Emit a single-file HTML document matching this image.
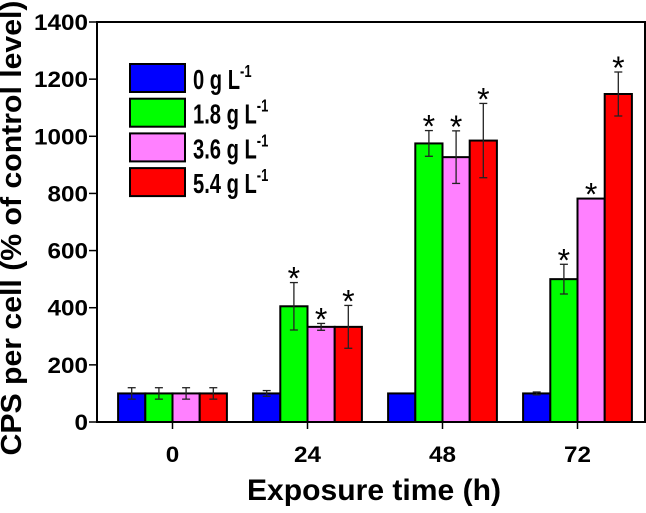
<!DOCTYPE html>
<html><head><meta charset="utf-8"><style>
body{margin:0;background:#fff}
svg text{font-family:"Liberation Sans",Arial,sans-serif;font-weight:bold}
</style></head><body>
<svg id="chart" width="646" height="508" viewBox="0 0 646 508" xmlns="http://www.w3.org/2000/svg">
<g id="bars"></g>
<g id="axes"></g>
<g id="legend"></g>
<text transform="translate(21,228) rotate(-90)" text-anchor="middle" font-size="29" textLength="455" lengthAdjust="spacingAndGlyphs">CPS per cell (% of control level)</text>
<text x="374" y="500" text-anchor="middle" font-size="30" textLength="254" lengthAdjust="spacingAndGlyphs">Exposure time (h)</text>
</svg>
<script>
const categories = ["0","24","48","72"];
const seriesNames = ["0 g L","1.8 g L","3.6 g L","5.4 g L"];
const seriesColors = ["#0000ff","#00ff00","#ff80ff","#ff0000"];
const s0 = [100,100,100,100];
const s1 = [100,405,975,500];
const s2 = [100,333,927,782];
const s3 = [100,333,985,1148];
const e0 = [20,10,0,5];
const e1 = [20,83,45,52];
const e2 = [20,12,92,0];
const e3 = [20,75,130,77];
const sig0 = [0,0,0,0];
const sig1 = [0,1,1,1];
const sig2 = [0,1,1,1];
const sig3 = [0,1,1,1];
const yTicks = [0,200,400,600,800,1000,1200,1400];

const NS="http://www.w3.org/2000/svg";
const L=97,R=645,T=22,B=422,yMax=1400;
const y=v=>B-(v/yMax)*(B-T);
const groupW=135, firstC=172.5, barW=27.2;
const xc=i=>firstC+i*groupW;
function mk(tag,attrs,parent){const e=document.createElementNS(NS,tag);for(const k in attrs)e.setAttribute(k,attrs[k]);parent.appendChild(e);return e;}
const bars=document.getElementById('bars'),axes=document.getElementById('axes'),leg=document.getElementById('legend');
const series=[s0,s1,s2,s3],errs=[e0,e1,e2,e3],sigs=[sig0,sig1,sig2,sig3];
categories.forEach((c,i)=>{
  series.forEach((s,j)=>{
    const x0=xc(i)-2*barW+j*barW;
    const r=mk('rect',{x:x0,y:y(s[i]),width:barW,height:B-y(s[i]),fill:seriesColors[j],stroke:'#000','stroke-width':2},bars);
    
    
    const cx=x0+barW/2;
    const e=errs[j][i];
    if(e>0){
      const g=mk('g',{stroke:'#222','stroke-width':1.3},bars);
      
      
      mk('line',{x1:cx,x2:cx,y1:y(s[i]+e),y2:y(s[i]-e)},g);
      mk('line',{x1:cx-4,x2:cx+4,y1:y(s[i]+e),y2:y(s[i]+e)},g);
      mk('line',{x1:cx-4,x2:cx+4,y1:y(s[i]-e),y2:y(s[i]-e)},g);
    }
    if(sigs[j][i]){
      const t=mk('text',{x:cx,y:y(s[i]+e)+7,'text-anchor':'middle','font-size':32,style:'font-weight:normal'},bars);
      t.textContent='*';
      
      
    }
  });
  mk('line',{x1:xc(i),x2:xc(i),y1:B,y2:B+7,stroke:'#000','stroke-width':1.5},axes);
  const t=mk('text',{x:xc(i),y:B+40,'text-anchor':'middle','font-size':22,textLength:13.5*c.length,lengthAdjust:'spacingAndGlyphs'},axes);
  t.textContent=c;
  
  
});
const fr=mk('rect',{x:L,y:T,width:R-L,height:B-T,fill:'none',stroke:'#000','stroke-width':2},axes);


yTicks.forEach(v=>{
  mk('line',{x1:L-8,x2:L,y1:y(v),y2:y(v),stroke:'#000','stroke-width':1.5},axes);
  const s=String(v);
  const t=mk('text',{x:L-7,y:y(v)+8,'text-anchor':'end','font-size':22,textLength:13.5*s.length,lengthAdjust:'spacingAndGlyphs'},axes);
  t.setAttribute('x',L-9);
  t.textContent=s;
  
  
});
seriesNames.forEach((n,j)=>{
  const ty=64+j*34.7;
  const r=mk('rect',{x:130,y:ty,width:55,height:28,fill:seriesColors[j],stroke:'#000','stroke-width':2},leg);
  
  
  const t=mk('text',{x:0,y:0,'font-size':28,transform:'translate(193,'+(ty+25)+') scale(0.72,1)'},leg);
  
  
  t.textContent=n;
  const sup=mk('tspan',{dy:-12,'font-size':18},t);
  sup.textContent='-1';
});
</script>
</body></html>
